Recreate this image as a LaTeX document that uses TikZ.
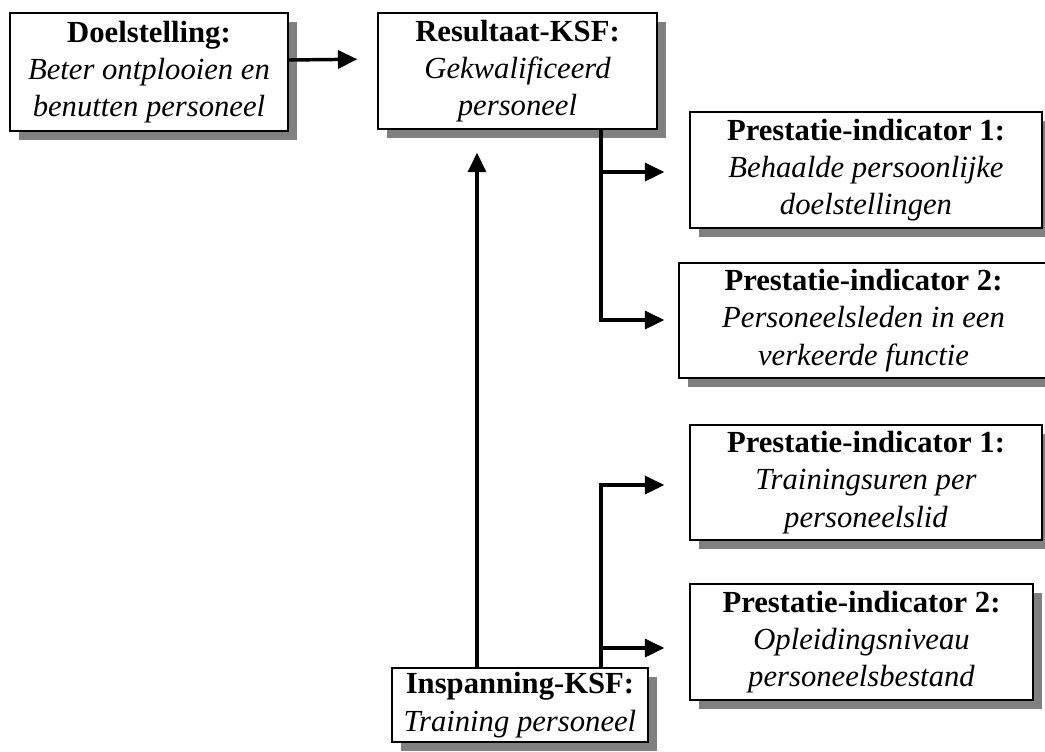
\documentclass[tikz,border=0pt]{standalone}
\usepackage{fontspec}
\setmainfont{Liberation Serif}
\usetikzlibrary{shadows,arrows.meta}
\begin{document}
\begin{tikzpicture}[x=0.75pt,y=-0.75pt,
  box/.style={draw=black, line width=1.1pt, fill=white, align=center, inner sep=0pt,
    font=\fontsize{23}{28}\selectfont,
    drop shadow={shadow xshift=6.75pt, shadow yshift=-6.75pt, fill=black!50, opacity=1}},
  conn/.style={line width=2.6pt},
  arr/.style={conn, -{Triangle[length=14.5pt,width=13.5pt]}},
]
\useasboundingbox (0,0) rectangle (1045,751);

% boxes
\node[box, minimum width=208.5pt, minimum height=88.5pt] (D) at (149,72)
  {\textbf{Doelstelling:}\\\textit{Beter ontplooien en}\\\textit{benutten personeel}};
\node[box, minimum width=209.25pt, minimum height=87pt] (R) at (517.5,71)
  {\textbf{Resultaat-KSF:}\\\textit{Gekwalificeerd}\\\textit{personeel}};
\node[box, minimum width=264pt, minimum height=87pt] (P1) at (866,170)
  {\textbf{Prestatie-indicator 1:}\\\textit{Behaalde persoonlijke}\\\textit{doelstellingen}};
\node[box, minimum width=276.75pt, minimum height=86.25pt] (P2) at (863.5,320.5)
  {\textbf{Prestatie-indicator 2:}\\\textit{Personeelsleden in een}\\\textit{verkeerde functie}};
\node[box, minimum width=264pt, minimum height=86.25pt] (T1) at (866,482.5)
  {\textbf{Prestatie-indicator 1:}\\\textit{Trainingsuren per}\\\textit{personeelslid}};
\node[box, minimum width=257.25pt, minimum height=87pt] (T2) at (861.5,642)
  {\textbf{Prestatie-indicator 2:}\\\textit{Opleidingsniveau}\\\textit{personeelsbestand}};
\node[box, minimum width=192pt, minimum height=55.5pt] (I) at (520,705)
  {\textbf{Inspanning-KSF:}\\\textit{Training personeel}};

% junctions on the two spines
\coordinate (ja) at (601,172);
\coordinate (jb) at (601,320);
\coordinate (jc) at (601,485);
\coordinate (jd) at (601,648);

% connectors
\draw[arr, shorten >=15pt] ([yshift=9pt]D.east) -- ([yshift=9pt]R.west);
\draw[arr, shorten >=17.25pt] ([xshift=-32.25pt]I.north) -- ([xshift=-32.25pt]I.north |- R.south);
\draw[arr, shorten >=10.5pt] (R.south -| jb) -- (jb) -- (jb -| P2.west);
\draw[arr, shorten >=18.75pt] (ja) -- (ja -| P1.west);
\draw[arr, shorten >=18.75pt] (I.north -| jc) -- (jc) -- (jc -| T1.west);
\draw[arr, shorten >=18.75pt] (jd) -- (jd -| T2.west);
\end{tikzpicture}
\end{document}
